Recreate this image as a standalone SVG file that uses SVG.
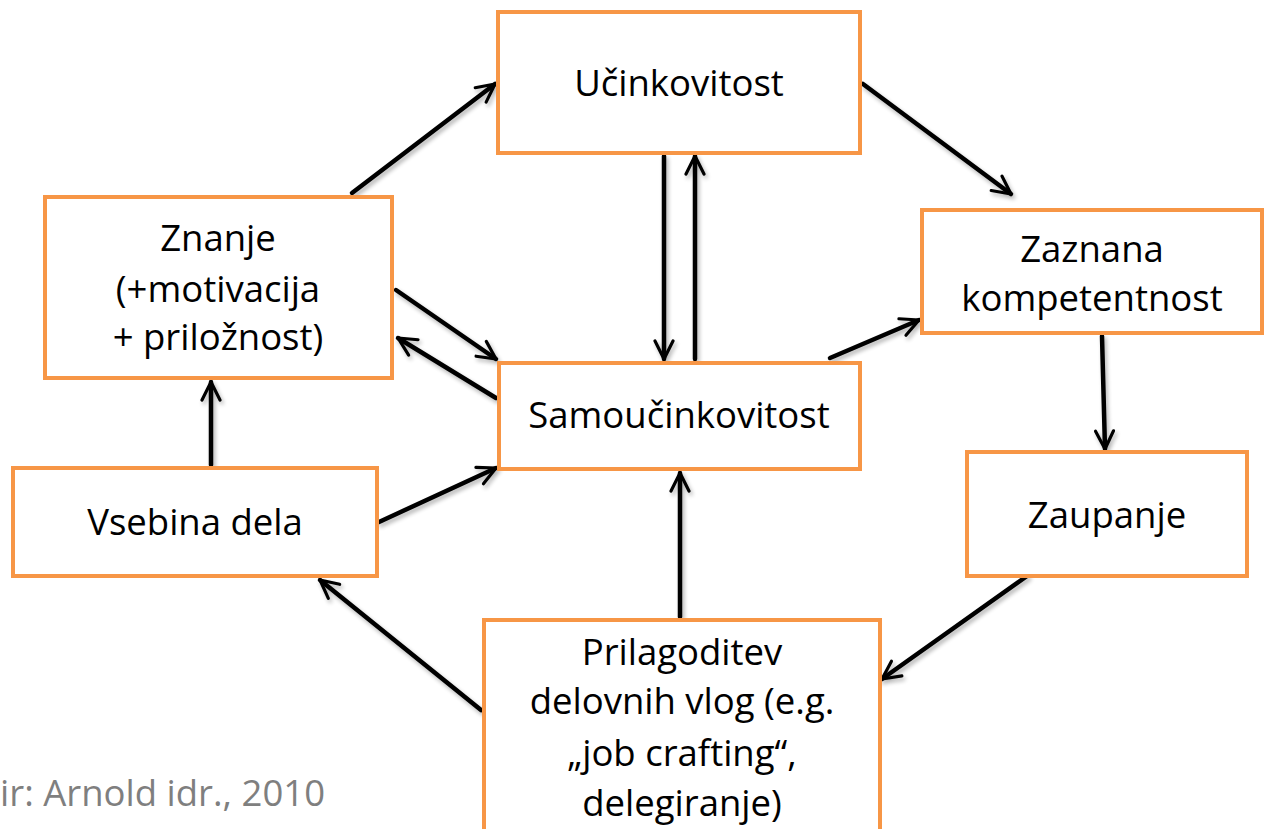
<svg xmlns="http://www.w3.org/2000/svg" width="1264" height="829" viewBox="0 0 1264 829">
  <defs>
    <style>
      .box { fill: #ffffff; stroke: #F79646; stroke-width: 4; }
      .lbl { font-family: "Open Sans", "Noto Sans", sans-serif; font-size: 36.5px; fill: #000000; text-anchor: middle; }
      .src { font-family: "Open Sans", "Noto Sans", sans-serif; font-size: 36.5px; fill: #7F7F7F; }
      .edge { fill: none; stroke: #000000; stroke-width: 4.5; stroke-linecap: round; marker-end: url(#arrow); }
    </style>
    <marker id="arrow" viewBox="0 0 10 10" refX="9" refY="5" markerWidth="5" markerHeight="5" markerUnits="strokeWidth" orient="auto">
      <path d="M1,1 L9,5 L1,9" fill="none" stroke="#000000" stroke-width="1.4" stroke-linecap="round" stroke-linejoin="round"/>
    </marker>
    <filter id="shadow" x="-10%" y="-10%" width="120%" height="120%">
      <feGaussianBlur in="SourceAlpha" stdDeviation="2"/>
      <feOffset dx="2" dy="3" result="b"/>
      <feComponentTransfer><feFuncA type="linear" slope="0.3"/></feComponentTransfer>
      <feMerge><feMergeNode/><feMergeNode in="SourceGraphic"/></feMerge>
    </filter>
  </defs>

  <rect width="1264" height="829" fill="#ffffff"/>

  <!-- connectors -->
  <g id="connectors" filter="url(#shadow)">
    <line class="edge" x1="352" y1="193" x2="495" y2="84"/>
    <line class="edge" x1="396" y1="290" x2="496" y2="359"/>
    <line class="edge" x1="496" y1="398" x2="398" y2="338"/>
    <line class="edge" x1="664" y1="156" x2="664" y2="359"/>
    <line class="edge" x1="695" y1="359" x2="695" y2="156"/>
    <line class="edge" x1="863" y1="84" x2="1011" y2="194"/>
    <line class="edge" x1="830" y1="358" x2="919" y2="320"/>
    <line class="edge" x1="1102" y1="336" x2="1105" y2="449"/>
    <line class="edge" x1="1027" y1="576" x2="882" y2="679"/>
    <line class="edge" x1="680" y1="617" x2="680" y2="473"/>
    <line class="edge" x1="481" y1="710" x2="320" y2="580"/>
    <line class="edge" x1="379" y1="522" x2="496" y2="468"/>
    <line class="edge" x1="211" y1="465" x2="211" y2="382"/>
  </g>

  <!-- nodes -->
  <g id="ucinkovitost">
    <rect class="box" x="498" y="12" width="362" height="141"/>
    <text class="lbl" x="679" y="96">Učinkovitost</text>
  </g>
  <g id="znanje">
    <rect class="box" x="45" y="197" width="347" height="181"/>
    <text class="lbl" x="218" y="251">Znanje</text>
    <text class="lbl" x="218" y="302">(+motivacija</text>
    <text class="lbl" x="218" y="350">+ priložnost)</text>
  </g>
  <g id="zaznana">
    <rect class="box" x="922" y="210" width="340" height="123"/>
    <text class="lbl" x="1092" y="262">Zaznana</text>
    <text class="lbl" x="1092" y="311">kompetentnost</text>
  </g>
  <g id="samoucinkovitost">
    <rect class="box" x="499" y="363" width="361" height="106"/>
    <text class="lbl" x="679" y="428">Samoučinkovitost</text>
  </g>
  <g id="vsebina">
    <rect class="box" x="13" y="468" width="364" height="108"/>
    <text class="lbl" x="195" y="535">Vsebina dela</text>
  </g>
  <g id="zaupanje">
    <rect class="box" x="967" y="452" width="280" height="124"/>
    <text class="lbl" x="1107" y="528">Zaupanje</text>
  </g>
  <g id="prilagoditev">
    <rect class="box" x="484" y="620" width="396" height="220"/>
    <text class="lbl" x="682" y="665">Prilagoditev</text>
    <text class="lbl" x="682" y="714">delovnih vlog (e.g.</text>
    <text class="lbl" x="682" y="766">„job crafting“,</text>
    <text class="lbl" x="682" y="816">delegiranje)</text>
  </g>

  <text class="src" x="0" y="806">ir: Arnold idr., 2010</text>
</svg>
